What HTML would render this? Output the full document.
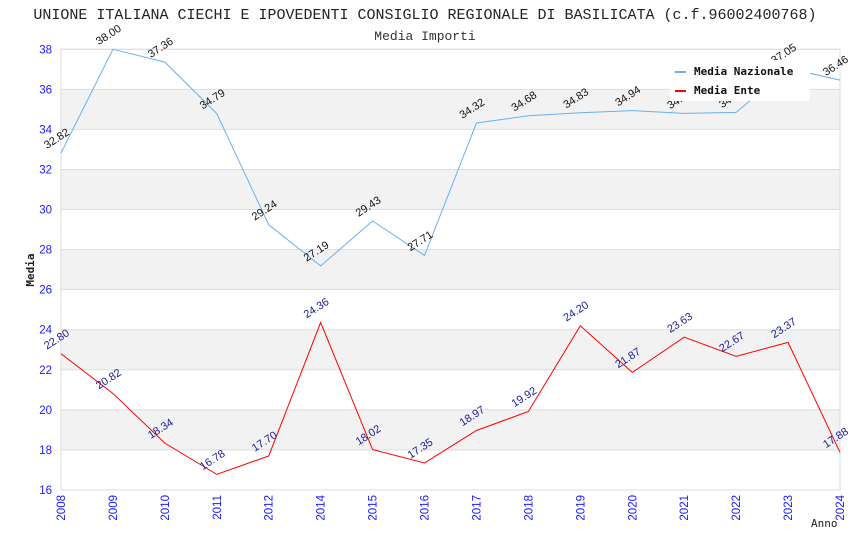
<!DOCTYPE html>
<html><head><meta charset="utf-8"><style>
body{margin:0;background:#fff;}
svg{display:block;font-family:"DejaVu Sans","Liberation Sans",sans-serif;}
</style></head><body>
<svg id="c" width="850" height="550">
<text x="425" y="19" text-anchor="middle" font-family="Liberation Mono,DejaVu Sans Mono,monospace" font-size="15" fill="#222">UNIONE ITALIANA CIECHI E IPOVEDENTI CONSIGLIO REGIONALE DI BASILICATA (c.f.96002400768)</text>
<text x="425" y="40" text-anchor="middle" font-family="Liberation Mono,DejaVu Sans Mono,monospace" font-size="13" fill="#333">Media Importi</text>
<g id="grid"></g><g id="series"></g><g id="axes"></g>
<text transform="translate(34,270) rotate(-90)" text-anchor="middle" font-family="DejaVu Sans Mono,monospace" font-weight="bold" font-size="11" fill="#222">Media</text>
<text x="811" y="527" font-family="DejaVu Sans Mono,monospace" font-size="11" fill="#222">Anno</text>
<g>
<rect x="670" y="60" width="140" height="41" fill="#fff"/>
<rect x="675" y="71" width="11" height="2" fill="#6aaff0"/>
<text x="694" y="75" font-family="DejaVu Sans Mono,monospace" font-weight="bold" font-size="11" fill="#111">Media Nazionale</text>
<rect x="675" y="90" width="11" height="2" fill="#f00"/>
<text x="694" y="94" font-family="DejaVu Sans Mono,monospace" font-weight="bold" font-size="11" fill="#111">Media Ente</text>
</g>
</svg>
<script>
const categories=["2008","2009","2010","2011","2012","2014","2015","2016","2017","2018","2019","2020","2021","2022","2023","2024"];
const nazionale=[32.82,38.00,37.36,34.79,29.24,27.19,29.43,27.71,34.32,34.68,34.83,34.94,34.80,34.85,37.05,36.46];
const ente=[22.80,20.82,18.34,16.78,17.70,24.36,18.02,17.35,18.97,19.92,24.20,21.87,23.63,22.67,23.37,17.88];
const yTicks=[16,18,20,22,24,26,28,30,32,34,36,38];
const NS="http://www.w3.org/2000/svg";
const L=61,R=840,T=49.3,B=490,yMin=16,yMax=38;
const x=i=>L+i*(R-L)/(categories.length-1);
const y=v=>B-(v-yMin)/(yMax-yMin)*(B-T);
function mk(p,tag,a){const e=document.createElementNS(NS,tag);for(const k in a)e.setAttribute(k,a[k]);p.appendChild(e);return e;}
const grid=document.getElementById('grid'),axes=document.getElementById('axes'),ser=document.getElementById('series');
for(let i=0;i<yTicks.length-1;i++){
 if(yTicks[i]%4===2){const r=mk(grid,'rect',{x:L,y:y(yTicks[i+1]),width:R-L,height:y(yTicks[i])-y(yTicks[i+1]),fill:'#f2f2f2'});
 
 }
}
yTicks.forEach(t=>{
 const l=mk(grid,'line',{x1:L,x2:R,y1:y(t),y2:y(t),stroke:'#ddd','stroke-width':1});
 
 
 const tx=mk(axes,'text',{x:L-9,y:y(t)+4,'text-anchor':'end','font-size':11.5,'font-family':'Liberation Sans,sans-serif',fill:'#1a1aff'});
 tx.textContent=t;
 
 
});
const fr=mk(grid,'rect',{x:L,y:T,width:R-L,height:B-T,fill:'none',stroke:'#ddd'});


categories.forEach((c,i)=>{
 const tx=mk(axes,'text',{transform:`translate(${x(i)+4},${B+5}) rotate(-90)`,'text-anchor':'end','font-size':11.5,'font-family':'Liberation Sans,sans-serif',fill:'#1a1aff'});
 tx.textContent=c;
 
 
});
function draw(vals,color,lc,name){
 const p=mk(ser,'polyline',{points:vals.map((v,i)=>x(i)+','+y(v)).join(' '),fill:'none',stroke:color,'stroke-width':1});
 
 
 vals.forEach((v,i)=>{
  const t=mk(ser,'text',{transform:`translate(${x(i)-14},${y(v)-4}) rotate(-33)`,'font-size':11,'font-family':'Liberation Sans,sans-serif',fill:lc});
  t.textContent=v.toFixed(2);
  
  
 });
}
draw(nazionale,'#6aaff0','#111','nazionale');
draw(ente,'#f00','#1a1a9a','ente');
</script>
</body></html>
